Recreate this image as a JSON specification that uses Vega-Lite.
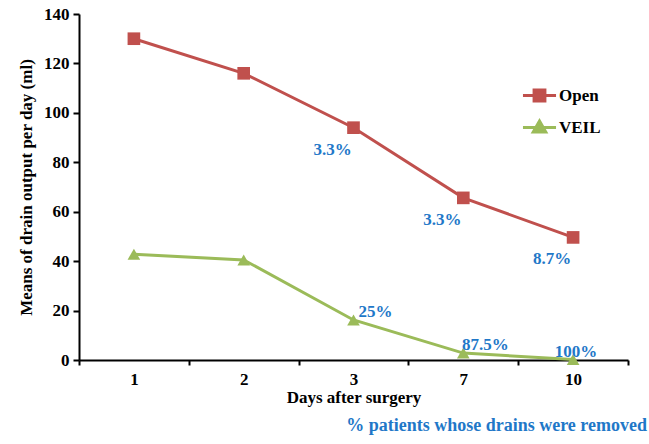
{
  "$schema": "https://vega.github.io/schema/vega-lite/v6.json",
  "width": 549,
  "height": 346,
  "autosize": {"type": "none"},
  "padding": {"left": 79, "top": 14, "right": 21, "bottom": 84},
  "background": "white",
  "config": {
    "view": {"stroke": null},
    "font": "Liberation Serif",
    "legend": {
      "title": null,
      "orient": "none",
      "legendX": 452,
      "legendY": 73,
      "padding": 0,
      "labelFont": "Liberation Serif",
      "labelFontWeight": "bold",
      "labelFontSize": 17,
      "labelColor": "black",
      "labelOffset": 11,
      "rowPadding": 7,
      "symbolSize": 130,
      "symbolOpacity": 1
    }
  },
  "title": {
    "text": "% patients whose drains were removed",
    "orient": "bottom",
    "anchor": "end",
    "color": "#1f78c8",
    "font": "Liberation Serif",
    "fontWeight": "bold",
    "fontSize": 18,
    "offset": 12,
    "dx": 18
  },
  "data": {
    "values": [
      {"day": "1", "group": "Open", "value": 130, "label": ""},
      {"day": "2", "group": "Open", "value": 116, "label": ""},
      {"day": "3", "group": "Open", "value": 94, "label": "3.3%"},
      {"day": "7", "group": "Open", "value": 65.6, "label": "3.3%"},
      {"day": "10", "group": "Open", "value": 49.6, "label": "8.7%"},
      {"day": "1", "group": "VEIL", "value": 42.8, "label": ""},
      {"day": "2", "group": "VEIL", "value": 40.5, "label": ""},
      {"day": "3", "group": "VEIL", "value": 16.2, "label": "25%"},
      {"day": "7", "group": "VEIL", "value": 2.8, "label": "87.5%"},
      {"day": "10", "group": "VEIL", "value": 0.2, "label": "100%"}
    ]
  },
  "encoding": {
    "x": {
      "field": "day",
      "type": "ordinal",
      "sort": ["1", "2", "3", "7", "10"],
      "bandPosition": 0.5,
      "scale": {"type": "band", "paddingInner": 0, "paddingOuter": 0},
      "axis": {
        "title": "Days after surgery",
        "labelAngle": 0,
        "labelFont": "Liberation Serif",
        "labelFontWeight": "bold",
        "labelFontSize": 17,
        "labelColor": "black",
        "labelPadding": 6,
        "titleFont": "Liberation Serif",
        "titleFontWeight": "bold",
        "titleFontSize": 17,
        "titleColor": "black",
        "titlePadding": 2,
        "domainColor": "black",
        "domainWidth": 2,
        "ticks": true,
        "tickBand": "extent",
        "tickColor": "black",
        "tickWidth": 2,
        "tickSize": 5,
        "grid": false
      }
    },
    "y": {
      "field": "value",
      "type": "quantitative",
      "scale": {"domain": [0, 140], "nice": false},
      "axis": {
        "title": "Means of drain output per day (ml)",
        "values": [0, 20, 40, 60, 80, 100, 120, 140],
        "labelFont": "Liberation Serif",
        "labelFontWeight": "bold",
        "labelFontSize": 17,
        "labelColor": "black",
        "labelPadding": 4,
        "titleFont": "Liberation Serif",
        "titleFontWeight": "bold",
        "titleFontSize": 17,
        "titleColor": "black",
        "titlePadding": 8,
        "domainColor": "black",
        "domainWidth": 2,
        "tickColor": "black",
        "tickWidth": 2,
        "tickSize": 6,
        "grid": false
      }
    },
    "color": {
      "field": "group",
      "type": "nominal",
      "scale": {"domain": ["Open", "VEIL"], "range": ["#c0504d", "#9bbb59"]},
      "legend": {
        "encode": {
          "symbols": {
            "update": {
              "shape": {"signal": "datum.value == 'Open' ? 'M-2.9,0H2.9M-0.95,-0.95H0.95V0.95H-0.95Z' : 'M-2.9,0H2.9M0,-1.15L1.1,0.8H-1.1Z'"},
              "stroke": {"signal": "datum.value == 'Open' ? '#c0504d' : '#9bbb59'"},
              "fill": {"signal": "datum.value == 'Open' ? '#c0504d' : '#9bbb59'"},
              "strokeWidth": {"value": 3}
            }
          }
        }
      }
    }
  },
  "layer": [
    {
      "mark": {"type": "line", "strokeWidth": 3}
    },
    {
      "transform": [{"filter": "datum.group == 'Open'"}],
      "mark": {"type": "point", "shape": "square", "filled": true, "size": 160, "opacity": 1}
    },
    {
      "transform": [{"filter": "datum.group == 'VEIL'"}],
      "mark": {"type": "point", "shape": "triangle-up", "filled": true, "size": 160, "opacity": 1}
    },
    {
      "transform": [{"filter": "datum.group == 'Open'"}],
      "mark": {"type": "text", "dx": -21, "dy": 22, "font": "Liberation Serif", "fontWeight": "bold", "fontSize": 17},
      "encoding": {"text": {"field": "label"}, "color": {"value": "#1f78c8"}}
    },
    {
      "transform": [{"filter": "datum.group == 'VEIL' && datum.day != '10'"}],
      "mark": {"type": "text", "dx": 22, "dy": -8, "font": "Liberation Serif", "fontWeight": "bold", "fontSize": 17},
      "encoding": {"text": {"field": "label"}, "color": {"value": "#1f78c8"}}
    },
    {
      "transform": [{"filter": "datum.group == 'VEIL' && datum.day == '10'"}],
      "mark": {"type": "text", "dx": 3, "dy": -8, "font": "Liberation Serif", "fontWeight": "bold", "fontSize": 17},
      "encoding": {"text": {"field": "label"}, "color": {"value": "#1f78c8"}}
    }
  ]
}
